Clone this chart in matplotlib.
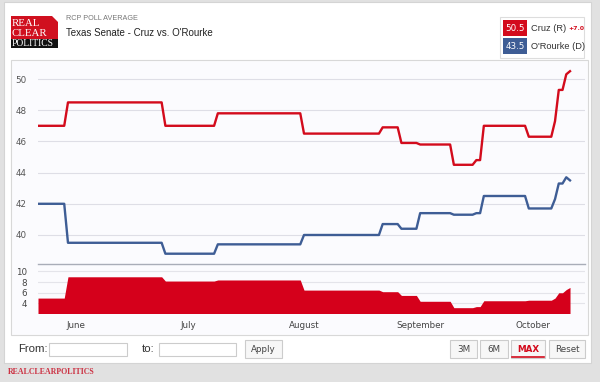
import numpy as np
import pandas as pd
import matplotlib
matplotlib.use("Agg")
import matplotlib.pyplot as plt
from matplotlib.patches import Rectangle, Polygon

# RCP poll average, Texas Senate 2018
dates = ["2018-05-22", "2018-05-29", "2018-05-30", "2018-06-24", "2018-06-25",
         "2018-07-08", "2018-07-09", "2018-07-31", "2018-08-01", "2018-08-21",
         "2018-08-22", "2018-08-26", "2018-08-27", "2018-08-31", "2018-09-01",
         "2018-09-09", "2018-09-10", "2018-09-15", "2018-09-16", "2018-09-17",
         "2018-09-18", "2018-09-29", "2018-09-30", "2018-10-06", "2018-10-07",
         "2018-10-08", "2018-10-09", "2018-10-10", "2018-10-11"]
cruz = [47.0, 47.0, 48.5, 48.5, 47.0, 47.0, 47.8, 47.8, 46.5, 46.5,
        46.9, 46.9, 45.9, 45.9, 45.8, 45.8, 44.5, 44.5, 44.8, 44.8,
        47.0, 47.0, 46.3, 46.3, 47.3, 49.3, 49.3, 50.3, 50.5]
orourke = [42.0, 42.0, 39.5, 39.5, 38.8, 38.8, 39.4, 39.4, 40.0, 40.0,
           40.7, 40.7, 40.4, 40.4, 41.4, 41.4, 41.3, 41.3, 41.4, 41.4,
           42.5, 42.5, 41.7, 41.7, 42.3, 43.3, 43.3, 43.7, 43.5]
month_ticks = ["2018-06-01", "2018-07-01", "2018-08-01", "2018-09-01", "2018-10-01"]
month_labels = ["June", "July", "August", "September", "October"]
main_ticks = [40, 42, 44, 46, 48, 50]
spread_ticks = [4, 6, 8, 10]

x = pd.to_datetime(dates)
spread = np.array(cruz) - np.array(orourke)

RED = "#d30b1c"
BLUE = "#3e5d95"
W, H = 600, 382

fig = plt.figure(figsize=(6, 3.82), dpi=100, facecolor="#e1e1e1")

# background drawing layer in pixel coordinates
bg = fig.add_axes([0, 0, 1, 1], zorder=0)
bg.set_xlim(0, W)
bg.set_ylim(H, 0)
bg.axis("off")

bg.add_patch(Rectangle((4, 2), 587, 361, facecolor="white", edgecolor="#d4d4d4", lw=0.8))
grad = np.linspace(1.0, 0.91, 60).reshape(-1, 1)
bg.imshow(grad, extent=(4.5, 590.5, 60, 2.5), cmap="gray", vmin=0, vmax=1, aspect="auto")
grad2 = np.linspace(0.99, 0.91, 30).reshape(-1, 1)
bg.imshow(grad2, extent=(4.5, 590.5, 362.5, 335), cmap="gray", vmin=0, vmax=1, aspect="auto")
bg.add_patch(Rectangle((11, 60), 577, 275, facecolor="#fbfbfe", edgecolor="#d8d8d8", lw=0.8))

# logo
bg.add_patch(Polygon([(11, 16), (52, 16), (58, 22), (58, 39), (11, 39)], closed=True,
                     facecolor="#d0101f", edgecolor="none"))
bg.add_patch(Rectangle((11, 39), 47, 9, facecolor="#111111", edgecolor="none"))
serif = "Liberation Serif"
bg.text(12, 24, "REAL", color="white", fontsize=7.8, family=serif, va="center")
bg.text(12, 33.5, "CLEAR", color="white", fontsize=7.8, family=serif, va="center")
bg.text(12, 43.7, "POLITICS", color="white", fontsize=6.9, family=serif, va="center")

bg.text(66, 18.5, "RCP POLL AVERAGE", color="#777777", fontsize=5.2, family="Liberation Sans", va="center")
bg.text(66, 33, "Texas Senate - Cruz vs. O'Rourke", color="#222222", fontsize=7.0,
        family="Liberation Sans", va="center")

# legend box
bg.add_patch(Rectangle((500, 17), 84, 41, facecolor="white", edgecolor="#dddddd", lw=0.8))
bg.add_patch(Rectangle((503, 20), 24, 16, facecolor=RED, edgecolor="none"))
bg.add_patch(Rectangle((503, 38), 24, 16, facecolor=BLUE, edgecolor="none"))
bg.text(515, 28.5, f"{cruz[-1]:.1f}", color="white", fontsize=6.3, ha="center", va="center")
bg.text(515, 46.5, f"{orourke[-1]:.1f}", color="white", fontsize=6.3, ha="center", va="center")
bg.text(531, 28.5, "Cruz (R)", color="#333333", fontsize=6.7, family="Liberation Sans", va="center")
bg.text(568, 29, f"+{spread[-1]:.1f}", color=RED, fontsize=4.4, fontweight="bold", va="center")
bg.text(531, 46.5, "O'Rourke (D)", color="#333333", fontsize=6.7, family="Liberation Sans", va="center")

# bottom controls
bg.text(18, 349.5, "From:", color="#333333", fontsize=8.2, family="Liberation Sans", va="center")
bg.add_patch(Rectangle((49, 343), 78, 13, facecolor="white", edgecolor="#cccccc", lw=0.8))
bg.text(142, 349.5, "to:", color="#333333", fontsize=8.2, family="Liberation Sans", va="center")
bg.add_patch(Rectangle((159, 343), 77, 13, facecolor="white", edgecolor="#cccccc", lw=0.8))
buttons = [(245, 37, "Apply"), (450, 27, "3M"), (480, 28, "6M"), (511, 34, "MAX"), (549, 36, "Reset")]
for bx, bw, lab in buttons:
    bg.add_patch(Rectangle((bx, 340), bw, 18, facecolor="#f7f7f7", edgecolor="#cccccc", lw=0.8))
    if lab == "MAX":
        bg.text(bx + bw / 2, 349, lab, color=RED, fontsize=6.3, fontweight="bold", ha="center", va="center")
        bg.plot([bx + 1, bx + bw - 1], [357, 357], color=RED, lw=1.2)
    else:
        bg.text(bx + bw / 2, 349, lab, color="#444444", fontsize=6.3, ha="center", va="center")
bg.text(8, 372.5, "REALCLEARPOLITICS", color="#cc3344", fontsize=5.7, family=serif,
        fontweight="bold", va="center")

# chart axes
xmin = pd.Timestamp("2018-05-22")
xmax = pd.Timestamp("2018-10-15")
left, width = 38 / W, 547 / W

ax = fig.add_axes([left, 1 - 264 / H, width, 202 / H], zorder=1)
ax.patch.set_alpha(0)
ax.plot(x, cruz, color=RED, lw=1.7, solid_joinstyle="round")
ax.plot(x, orourke, color=BLUE, lw=1.7, solid_joinstyle="round")
ax.set_xlim(xmin, xmax)
ax.set_ylim(38.14, 51.09)
ax.set_yticks(main_ticks)
ax.grid(axis="y", color="#dedee6", lw=0.8)
ax.set_axisbelow(True)
ax.set_xticks([])
for s in ax.spines.values():
    s.set_visible(False)
ax.tick_params(axis="y", length=0, pad=8, labelsize=6.3, labelcolor="#555555")

ax2 = fig.add_axes([left, 1 - 313 / H, width, 49 / H], zorder=1)
ax2.patch.set_alpha(0)
ax2.fill_between(x, spread, 0, color="#d5001b", lw=0)
ax2.set_xlim(xmin, xmax)
ax2.set_ylim(2.2, 11.4)
ax2.set_yticks(spread_ticks)
ax2.grid(axis="y", color="#e4e4ea", lw=0.8)
ax2.set_axisbelow(True)
for k, s in ax2.spines.items():
    s.set_visible(k == "top")
ax2.spines["top"].set_color("#a9adb8")
ax2.spines["top"].set_linewidth(1.0)
ax2.set_xticks(pd.to_datetime(month_ticks))
ax2.set_xticklabels(month_labels)
ax2.tick_params(axis="x", length=0, pad=6, labelsize=6.3, labelcolor="#444444")
ax2.tick_params(axis="y", length=0, pad=8, labelsize=6.3, labelcolor="#444444")

fig.savefig("out.png", dpi=100, facecolor=fig.get_facecolor())
